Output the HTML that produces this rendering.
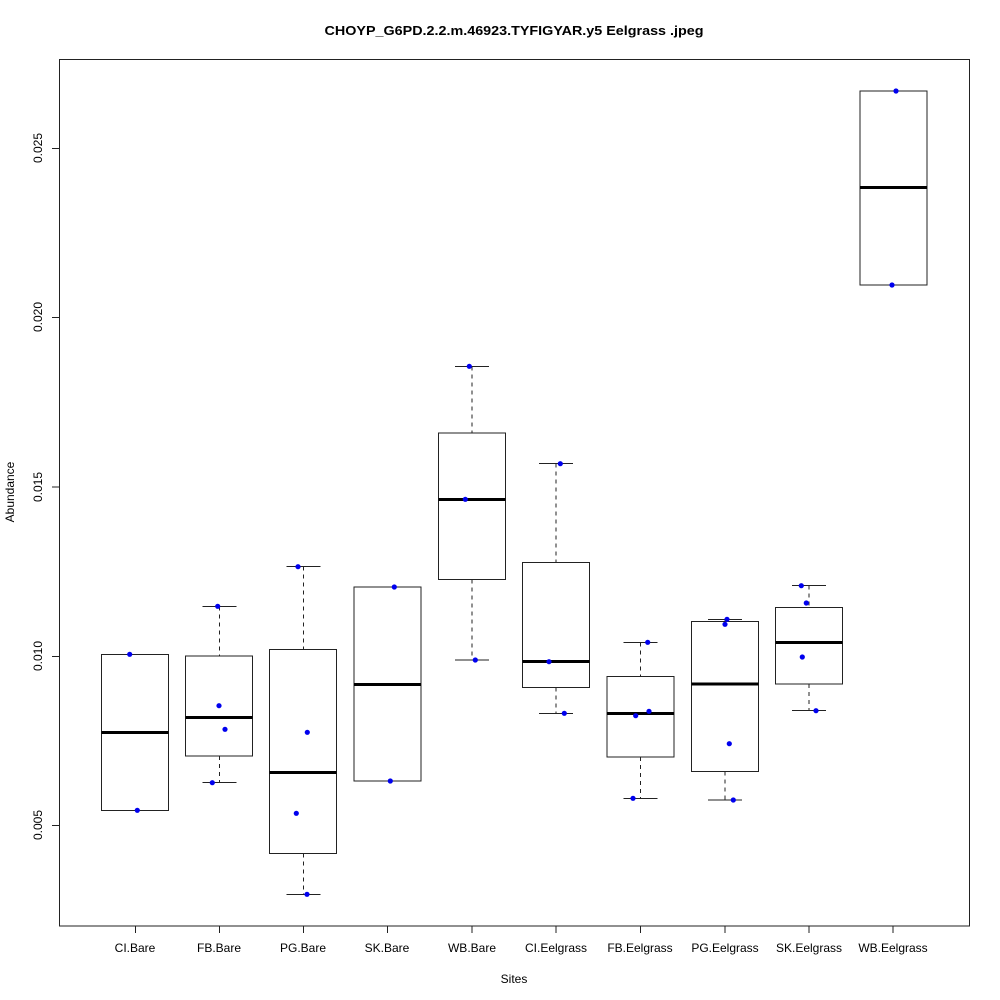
<!DOCTYPE html>
<html><head><meta charset="utf-8"><style>
html,body{margin:0;padding:0;background:#fff;}
svg{display:block;}
text{font-family:"Liberation Sans",Arial,sans-serif;fill:#000;}
</style></head><body>
<svg width="1000" height="1000" viewBox="0 0 1000 1000" xmlns="http://www.w3.org/2000/svg">
<rect x="0" y="0" width="1000" height="1000" fill="#fff"/>
<text x="514" y="35" font-size="13" font-weight="bold" text-anchor="middle" textLength="379" lengthAdjust="spacingAndGlyphs">CHOYP_G6PD.2.2.m.46923.TYFIGYAR.y5 Eelgrass .jpeg</text>
<!-- plot frame -->
<rect x="59.5" y="59.5" width="910" height="866.5" fill="none" stroke="#222" stroke-width="1"/>
<!-- y axis ticks -->
<g stroke="#222" stroke-width="1">
<line x1="52" y1="825.5" x2="59" y2="825.5"/>
<line x1="52" y1="656.5" x2="59" y2="656.5"/>
<line x1="52" y1="487" x2="59" y2="487"/>
<line x1="52" y1="317.5" x2="59" y2="317.5"/>
<line x1="52" y1="148.5" x2="59" y2="148.5"/>
</g>
<g font-size="12" text-anchor="middle">
<text transform="translate(42,825) rotate(-90)">0.005</text>
<text transform="translate(42,656) rotate(-90)">0.010</text>
<text transform="translate(42,487) rotate(-90)">0.015</text>
<text transform="translate(42,317) rotate(-90)">0.020</text>
<text transform="translate(42,148) rotate(-90)">0.025</text>
<text transform="translate(14,492) rotate(-90)">Abundance</text>
</g>
<!-- x ticks -->
<g stroke="#222" stroke-width="1">
<line x1="135.5" y1="926" x2="135.5" y2="933"/>
<line x1="219.5" y1="926" x2="219.5" y2="933"/>
<line x1="303.5" y1="926" x2="303.5" y2="933"/>
<line x1="387.5" y1="926" x2="387.5" y2="933"/>
<line x1="472" y1="926" x2="472" y2="933"/>
<line x1="556" y1="926" x2="556" y2="933"/>
<line x1="640.5" y1="926" x2="640.5" y2="933"/>
<line x1="725" y1="926" x2="725" y2="933"/>
<line x1="809" y1="926" x2="809" y2="933"/>
<line x1="893" y1="926" x2="893" y2="933"/>
</g>
<g font-size="12" text-anchor="middle">
<text x="135" y="952">CI.Bare</text>
<text x="219" y="952">FB.Bare</text>
<text x="303" y="952">PG.Bare</text>
<text x="387" y="952">SK.Bare</text>
<text x="472" y="952">WB.Bare</text>
<text x="556" y="952">CI.Eelgrass</text>
<text x="640" y="952">FB.Eelgrass</text>
<text x="725" y="952">PG.Eelgrass</text>
<text x="809" y="952">SK.Eelgrass</text>
<text x="893" y="952">WB.Eelgrass</text>
<text x="514" y="983">Sites</text>
</g>
<!-- boxes -->
<g fill="none" stroke="#222" stroke-width="1">
<!-- 1 CI.Bare -->
<rect x="101.5" y="654.5" width="67" height="156"/>
<line x1="118" y1="654.5" x2="152" y2="654.5"/>
<line x1="118" y1="810.5" x2="152" y2="810.5"/>
<!-- 2 FB.Bare -->
<rect x="185.5" y="656" width="67" height="100"/>
<line x1="219.5" y1="606.5" x2="219.5" y2="656" stroke-dasharray="4,4"/>
<line x1="219.5" y1="756" x2="219.5" y2="782.5" stroke-dasharray="4,4"/>
<line x1="202.5" y1="606.5" x2="236.5" y2="606.5"/>
<line x1="202.5" y1="782.5" x2="236.5" y2="782.5"/>
<!-- 3 PG.Bare -->
<rect x="269.5" y="649.5" width="67" height="204"/>
<line x1="303.5" y1="566.5" x2="303.5" y2="649.5" stroke-dasharray="4,4"/>
<line x1="303.5" y1="853.5" x2="303.5" y2="894.5" stroke-dasharray="4,4"/>
<line x1="286.5" y1="566.5" x2="320.5" y2="566.5"/>
<line x1="286.5" y1="894.5" x2="320.5" y2="894.5"/>
<!-- 4 SK.Bare -->
<rect x="354" y="587" width="67" height="194"/>
<line x1="371" y1="587" x2="405" y2="587"/>
<line x1="371" y1="781" x2="405" y2="781"/>
<!-- 5 WB.Bare -->
<rect x="438.5" y="433" width="67" height="146.5"/>
<line x1="472" y1="366.5" x2="472" y2="433" stroke-dasharray="4,4"/>
<line x1="472" y1="579.5" x2="472" y2="660" stroke-dasharray="4,4"/>
<line x1="455" y1="366.5" x2="489" y2="366.5"/>
<line x1="455" y1="660" x2="489" y2="660"/>
<!-- 6 CI.Eelgrass -->
<rect x="522.5" y="562.5" width="67" height="125"/>
<line x1="556" y1="463.5" x2="556" y2="562.5" stroke-dasharray="4,4"/>
<line x1="556" y1="687.5" x2="556" y2="713.5" stroke-dasharray="4,4"/>
<line x1="539" y1="463.5" x2="573" y2="463.5"/>
<line x1="539" y1="713.5" x2="573" y2="713.5"/>
<!-- 7 FB.Eelgrass -->
<rect x="607" y="676.5" width="67" height="80.5"/>
<line x1="640.5" y1="642.5" x2="640.5" y2="676.5" stroke-dasharray="4,4"/>
<line x1="640.5" y1="757" x2="640.5" y2="798.5" stroke-dasharray="4,4"/>
<line x1="623.5" y1="642.5" x2="657.5" y2="642.5"/>
<line x1="623.5" y1="798.5" x2="657.5" y2="798.5"/>
<!-- 8 PG.Eelgrass -->
<rect x="691.5" y="621.5" width="67" height="150"/>
<line x1="725" y1="619.5" x2="725" y2="621.5" stroke-dasharray="4,4"/>
<line x1="725" y1="771.5" x2="725" y2="800" stroke-dasharray="4,4"/>
<line x1="708" y1="619.5" x2="742" y2="619.5"/>
<line x1="708" y1="800" x2="742" y2="800"/>
<!-- 9 SK.Eelgrass -->
<rect x="775.5" y="607.5" width="67" height="76.5"/>
<line x1="809" y1="585.5" x2="809" y2="607.5" stroke-dasharray="4,4"/>
<line x1="809" y1="684" x2="809" y2="710.5" stroke-dasharray="4,4"/>
<line x1="792" y1="585.5" x2="826" y2="585.5"/>
<line x1="792" y1="710.5" x2="826" y2="710.5"/>
<!-- 10 WB.Eelgrass -->
<rect x="860" y="91" width="67" height="194"/>
<line x1="876.5" y1="91" x2="910.5" y2="91"/>
<line x1="876.5" y1="285" x2="910.5" y2="285"/>
</g>
<!-- medians -->
<g stroke="#000" stroke-width="3">
<line x1="101.5" y1="732.5" x2="168.5" y2="732.5"/>
<line x1="185.5" y1="717.5" x2="252.5" y2="717.5"/>
<line x1="269.5" y1="772.5" x2="336.5" y2="772.5"/>
<line x1="354" y1="684.5" x2="421" y2="684.5"/>
<line x1="438.5" y1="499.5" x2="505.5" y2="499.5"/>
<line x1="522.5" y1="661.5" x2="589.5" y2="661.5"/>
<line x1="607" y1="713.5" x2="674" y2="713.5"/>
<line x1="691.5" y1="684" x2="758.5" y2="684"/>
<line x1="775.5" y1="642.5" x2="842.5" y2="642.5"/>
<line x1="860" y1="187.5" x2="927" y2="187.5"/>
</g>
<!-- points -->
<g fill="#0000ee">
<circle cx="129.7" cy="654.3" r="2.6"/>
<circle cx="137.3" cy="810.3" r="2.6"/>
<circle cx="217.7" cy="606.3" r="2.6"/>
<circle cx="219" cy="705.7" r="2.6"/>
<circle cx="225" cy="729.3" r="2.6"/>
<circle cx="212.3" cy="782.7" r="2.6"/>
<circle cx="298" cy="566.7" r="2.6"/>
<circle cx="307.3" cy="732.3" r="2.6"/>
<circle cx="296.3" cy="813.3" r="2.6"/>
<circle cx="307" cy="894.3" r="2.6"/>
<circle cx="394.3" cy="587" r="2.6"/>
<circle cx="390.3" cy="781" r="2.6"/>
<circle cx="469.3" cy="366.3" r="2.6"/>
<circle cx="465.3" cy="499.3" r="2.6"/>
<circle cx="475.3" cy="660" r="2.6"/>
<circle cx="560.3" cy="463.7" r="2.6"/>
<circle cx="549" cy="661.7" r="2.6"/>
<circle cx="564.3" cy="713.3" r="2.6"/>
<circle cx="647.7" cy="642.3" r="2.6"/>
<circle cx="649" cy="711.3" r="2.6"/>
<circle cx="635.7" cy="715.7" r="2.6"/>
<circle cx="633" cy="798.3" r="2.6"/>
<circle cx="727" cy="619.3" r="2.6"/>
<circle cx="725" cy="624.3" r="2.6"/>
<circle cx="729.3" cy="743.7" r="2.6"/>
<circle cx="733.3" cy="800" r="2.6"/>
<circle cx="801.3" cy="585.7" r="2.6"/>
<circle cx="806.3" cy="603" r="2.6"/>
<circle cx="802.3" cy="657" r="2.6"/>
<circle cx="816" cy="710.7" r="2.6"/>
<circle cx="896" cy="91" r="2.6"/>
<circle cx="892" cy="285" r="2.6"/>
</g>
</svg>
</body></html>
